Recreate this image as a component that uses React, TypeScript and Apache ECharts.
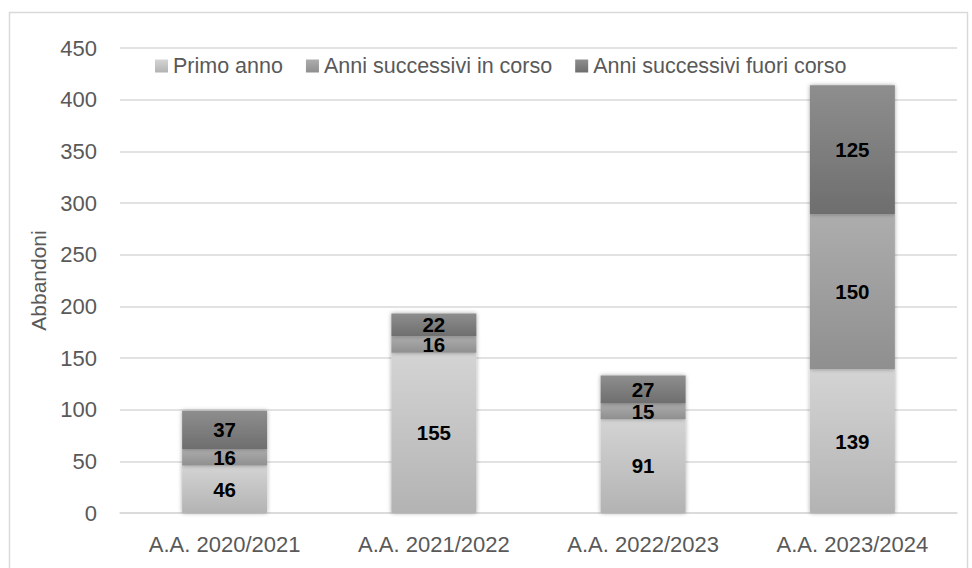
import React, { useEffect, useRef } from "react";
import * as echarts from "echarts";

const categories = ["A.A. 2020/2021", "A.A. 2021/2022", "A.A. 2022/2023", "A.A. 2023/2024"];
const primoAnno = [46, 155, 91, 139];
const inCorso = [16, 16, 15, 150];
const fuoriCorso = [37, 22, 27, 125];
const seriesNames = ["Primo anno", "Anni successivi in corso", "Anni successivi fuori corso"];
const yTicks = { min: 0, max: 450, interval: 50 };

const FONT = "'Liberation Sans', Arial, sans-serif";

function grad(top: string, bottom: string) {
  return new echarts.graphic.LinearGradient(0, 0, 0, 1, [
    { offset: 0, color: top },
    { offset: 1, color: bottom },
  ]);
}

export default function App() {
  const ref = useRef<HTMLDivElement>(null);
  useEffect(() => {
    if (!ref.current) return;
    const chart = echarts.init(ref.current, null, { renderer: "svg" });
    const label = {
      show: true,
      position: "inside" as const,
      color: "#000000",
      fontWeight: "bold" as const,
      fontSize: 20.5,
      lineHeight: 18,
      fontFamily: FONT,
    };
    const common = {
      type: "bar" as const,
      stack: "total",
      barWidth: 85,
      label,
    };
    const colors = [
      ["#d4d4d4", "#b3b3b3"],
      ["#adadad", "#8f8f8f"],
      ["#8e8e8e", "#6e6e6e"],
    ];
    const datas = [primoAnno, inCorso, fuoriCorso];
    chart.setOption({
      animation: false,
      backgroundColor: "#ffffff",
      textStyle: { fontFamily: FONT },
      grid: { left: 120, right: 15, top: 48, bottom: 55 },
      legend: {
        data: seriesNames,
        left: 155,
        top: 55,
        padding: 0,
        itemWidth: 13,
        itemHeight: 13,
        itemGap: 23,
        icon: "rect",
        textStyle: { color: "#595959", fontSize: 21.5, fontFamily: FONT },
      },
      xAxis: {
        type: "category",
        data: categories,
        axisLine: { lineStyle: { color: "#d9d9d9", width: 1.5 } },
        axisTick: { show: false },
        axisLabel: { color: "#595959", fontSize: 22, margin: 20, fontFamily: FONT },
      },
      yAxis: {
        type: "value",
        min: yTicks.min,
        max: yTicks.max,
        interval: yTicks.interval,
        name: "Abbandoni",
        nameLocation: "middle",
        nameGap: 70,
        nameTextStyle: { color: "#595959", fontSize: 21, fontFamily: FONT },
        axisLine: { show: false },
        axisTick: { show: false },
        axisLabel: { color: "#595959", fontSize: 22, margin: 23, fontFamily: FONT },
        splitLine: { lineStyle: { color: "#d9d9d9", width: 1.5 } },
      },
      series: datas.map((d, i) => ({
        ...common,
        name: seriesNames[i],
        data: d,
        itemStyle: {
          color: grad(colors[i][0], colors[i][1]),
          shadowBlur: 4,
          shadowColor: "rgba(0,0,0,0.35)",
        },
      })),
      graphic: [
        {
          type: "rect",
          shape: { x: 9.5, y: 12.5, width: 958, height: 570 },
          style: { fill: "none", stroke: "#d9d9d9", lineWidth: 1.5 },
          silent: true,
          z: -1,
        },
      ],
    });
    return () => chart.dispose();
  }, []);
  return (
    <div
      ref={ref}
      style={{ position: "fixed", left: 0, top: 0, width: 972, height: 568 }}
    />
  );
}
